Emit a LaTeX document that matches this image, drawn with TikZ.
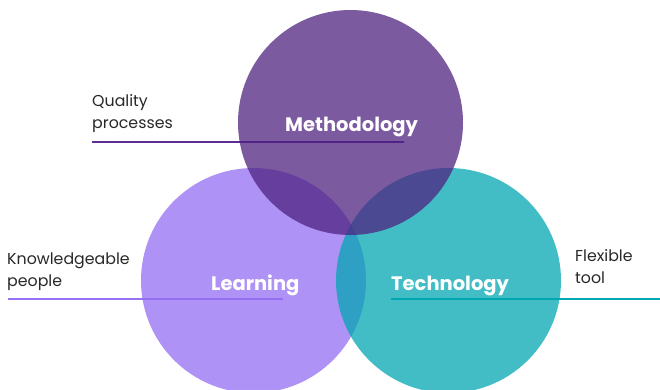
\documentclass[tikz,border=0pt]{standalone}
\usepackage{fontspec}
\setmainfont{Poppins}
\definecolor{methC}{RGB}{77,33,128}
\definecolor{learnC}{RGB}{148,109,242}
\definecolor{techC}{RGB}{0,166,178}
\definecolor{methL}{RGB}{92,45,147}
\definecolor{learnL}{RGB}{152,114,245}
\definecolor{techL}{RGB}{0,168,180}
\definecolor{txt}{RGB}{40,40,40}
\tikzset{
  venn/.style={fill opacity=0.74},
  lead/.style={line width=2pt},
  sidelabel/.style={inner sep=0pt, anchor=north west, align=left, text=txt,
    font=\fontsize{15.8}{22}\selectfont},
  circlabel/.style={inner sep=0pt, anchor=base west, text=white,
    font=\fontsize{19.5}{22}\selectfont\bfseries},
}
\begin{document}
\begin{tikzpicture}[x=1pt,y=-1pt]
\useasboundingbox (0,0) rectangle (660,389);
\fill[white] (0,0) rectangle (660,389);
% leader lines (under circles)
\coordinate (q1) at (92,142);
\coordinate (q2) at (404,142);
\coordinate (k1) at (8,299);
\coordinate (k2) at (283,299);
\coordinate (f1) at (391,299);
\coordinate (f2) at (660,299);
\draw[lead, methL] (q1) -- (q2);
\draw[lead, learnL] (k1) -- (k2);
\draw[lead, techL] (f1) -- (f2);
% circles
\fill[venn, learnC] (253.5,280.5) circle[radius=112.5pt];
\fill[venn, techC] (448.5,280.5) circle[radius=112.5pt];
\fill[venn, methC] (350.5,122.5) circle[radius=112.5pt];
% labels
\node[circlabel] (meth) at (285,131.5) {Methodology};
\node[circlabel] (learn) at (211,290) {Learning};
\node[circlabel] (tech) at (391,290) {Technology};
\node[sidelabel] (qual) at (92,94.5) {Quality\\processes};
\node[sidelabel] (know) at (7,252.5) {Knowledgeable\\people};
\node[sidelabel] (flex) at (575,249) {Flexible\\tool};
\end{tikzpicture}
\end{document}
